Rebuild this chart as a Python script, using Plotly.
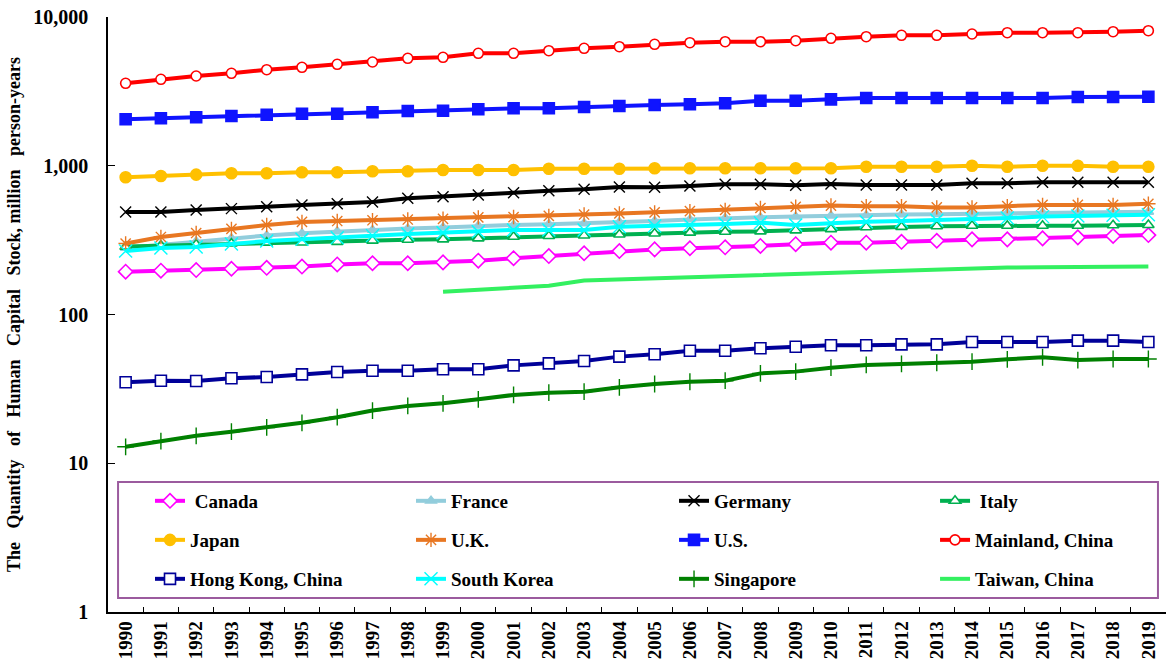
import plotly.graph_objects as go

years = [str(y) for y in range(1990, 2020)]

canada = [194, 197, 199, 203, 206, 210, 217, 221, 221, 224, 230, 239, 247, 258, 267,
          274, 279, 283, 289, 297, 304, 304, 308, 313, 320, 320, 325, 330, 337, 342]
france = [280, 295, 310, 325, 340, 352, 362, 370, 378, 385, 395, 400, 405, 410, 418,
          425, 435, 445, 450, 455, 462, 465, 470, 472, 475, 480, 485, 485, 485, 490]
germany = [489, 489, 505, 515, 530, 545, 555, 570, 604, 619, 636, 659, 680, 694, 720,
           716, 731, 751, 751, 739, 754, 742, 742, 742, 762, 762, 774, 774, 774, 774]
italy = [286, 290, 295, 300, 304, 305, 308, 314, 318, 320, 325, 333, 337, 340, 345,
         350, 355, 360, 362, 368, 375, 386, 388, 392, 395, 395, 395, 395, 398, 400]
japan = [836, 853, 871, 890, 890, 904, 904, 918, 918, 936, 936, 936, 955, 955, 955,
         961, 961, 961, 961, 961, 961, 985, 985, 985, 1001, 985, 1001, 1001, 985, 985]
uk = [300, 332, 353, 376, 400, 419, 425, 430, 435, 440, 450, 452, 460, 470, 478,
      486, 495, 505, 520, 530, 540, 535, 535, 525, 525, 535, 545, 545, 545, 555]
us = [2053, 2084, 2117, 2160, 2204, 2238, 2238, 2287, 2334, 2345, 2396, 2434, 2434, 2483, 2521,
      2560, 2588, 2629, 2737, 2737, 2796, 2854, 2854, 2854, 2854, 2854, 2854, 2899, 2899, 2913]
mainland = [3584, 3813, 4012, 4183, 4422, 4589, 4808, 4983, 5277, 5359, 5702, 5702, 5935, 6161, 6316,
            6554, 6719, 6823, 6823, 6931, 7192, 7374, 7535, 7535, 7687, 7845, 7845, 7845, 7967, 8091]
hong_kong = [35.0, 35.9, 35.7, 37.3, 38.0, 39.6, 41.1, 41.9, 41.9, 42.8, 42.8, 45.5, 46.9, 48.7, 52.1,
             54.0, 57.1, 57.1, 59.3, 60.7, 62.1, 62.1, 63.0, 63.0, 65.3, 65.3, 65.3, 66.7, 66.7, 65.3]
korea = [267, 280, 284, 298, 312, 321, 328, 339, 348, 355, 360, 370, 370, 370, 389,
         393, 400, 406, 414, 400, 410, 421, 425, 430, 438, 445, 455, 460, 465, 468]
singapore = [12.9, 14.1, 15.3, 16.3, 17.4, 18.7, 20.4, 22.6, 24.3, 25.3, 26.9, 28.8, 29.8, 30.3, 32.4,
             34.1, 35.3, 35.9, 40.2, 41.3, 43.9, 45.8, 46.5, 47.4, 48.2, 50.0, 51.6, 49.4, 50.2, 50.2]
taiwan = [None] * 9 + [142, 147, 150, 156, 169, 172, 175, 178, 181, 184, 188, 192,
                       196, 199, 202, 204, 207, 208, 209, 209, 210]

y_tickvals = [1, 10, 100, 1000, 10000]
y_ticktext = ["1", "10", "100", "1,000", "10,000"]

FONT = "Liberation Serif"
WHITE = "#FFFFFF"
NB = "\u00a0"

# name, values, colour, marker symbol, marker size, marker fill
series = [
    (NB + "Canada", canada, "#FF00FF", "diamond", 11, WHITE),
    ("France", france, "#92CDDC", "triangle-up", 9, "#92CDDC"),
    ("Germany", germany, "#000000", "x-thin", 11, "#000000"),
    (NB + "Italy", italy, "#00B050", "triangle-up", 10, WHITE),
    ("Japan", japan, "#FFC000", "circle", 11, "#FFC000"),
    ("U.K.", uk, "#E87722", "asterisk", 12, "#E87722"),
    ("U.S.", us, "#0F14FF", "square", 11, "#0F14FF"),
    ("Mainland, China", mainland, "#FF0000", "circle", 10, WHITE),
    ("Hong Kong, China", hong_kong, "#000099", "square", 11, WHITE),
    ("South Korea", korea, "#00FFFF", "x-thin", 13, "#00FFFF"),
    ("Singapore", singapore, "#008000", "cross-thin", 12, "#008000"),
    ("Taiwan, China", taiwan, "#33F060", None, 0, None),
]

# legend grid: 4 columns x 3 rows inside a framed box
col_x = [0.0397, 0.2864, 0.535, 0.7817]
row_y = [0.1866, 0.121, 0.0555]

fig = go.Figure()
legends = {}
for i, (name, vals, color, symbol, size, fill) in enumerate(series):
    key = "legend" if i == 0 else f"legend{i + 1}"
    legends[key] = dict(
        orientation="h", xref="paper", yref="paper", xanchor="left", yanchor="middle",
        x=col_x[i % 4], y=row_y[i // 4],
        bgcolor="rgba(0,0,0,0)", borderwidth=0,
        font=dict(family=FONT, size=19, color="#000000", weight="bold"),
        itemclick=False, itemdoubleclick=False,
    )
    if symbol is None:
        fig.add_trace(go.Scatter(
            x=years, y=vals, name=name, mode="lines", legend=key,
            line=dict(color=color, width=4), connectgaps=False))
        continue
    thin = symbol.endswith("-thin") or symbol == "asterisk"
    fig.add_trace(go.Scatter(
        x=years, y=vals, name=name, mode="lines+markers", legend=key,
        line=dict(color=color, width=4),
        marker=dict(symbol=symbol, size=size, color=fill,
                    line=dict(color=color, width=1.4 if thin else 1.6))))

title_words = ["The", "Quantity", "of", "Human", "Capital",
               "Stock," + NB + "million", "person-years"]

fig.update_layout(
    width=1168, height=669,
    margin=dict(l=108, r=2, t=17, b=57),
    paper_bgcolor=WHITE, plot_bgcolor=WHITE,
    font=dict(family=FONT, color="#000000"),
    showlegend=True,
    xaxis=dict(
        type="category", categoryorder="array", categoryarray=years,
        range=[-0.5, len(years) - 0.5],
        tickangle=-90, tickson="boundaries", ticks="inside", ticklen=5,
        tickcolor="#000000", showline=True, linecolor="#000000", linewidth=1.5,
        showgrid=False, zeroline=False, automargin=False,
        tickfont=dict(family=FONT, size=19, color="#000000", weight="bold"),
    ),
    yaxis=dict(
        type="log", range=[0, 4], tickvals=y_tickvals, ticktext=y_ticktext,
        ticks="inside", ticklen=7, tickcolor="#000000",
        showline=True, linecolor="#000000", linewidth=1.5,
        showgrid=False, zeroline=False, ticklabelstandoff=14, automargin=False,
        tickfont=dict(family=FONT, size=20, color="#000000", weight="bold"),
        title=dict(
            text=(NB * 3).join(title_words),
            font=dict(family=FONT, size=18, color="#000000", weight="bold"),
            standoff=8),
    ),
    shapes=[dict(type="rect", xref="paper", yref="paper",
                 x0=0.0095, x1=0.9924, y0=0.0235, y1=0.2185,
                 line=dict(color="#9B5B9E", width=2), fillcolor="rgba(0,0,0,0)",
                 layer="below")],
    **legends,
)

fig.write_html("out.html")
